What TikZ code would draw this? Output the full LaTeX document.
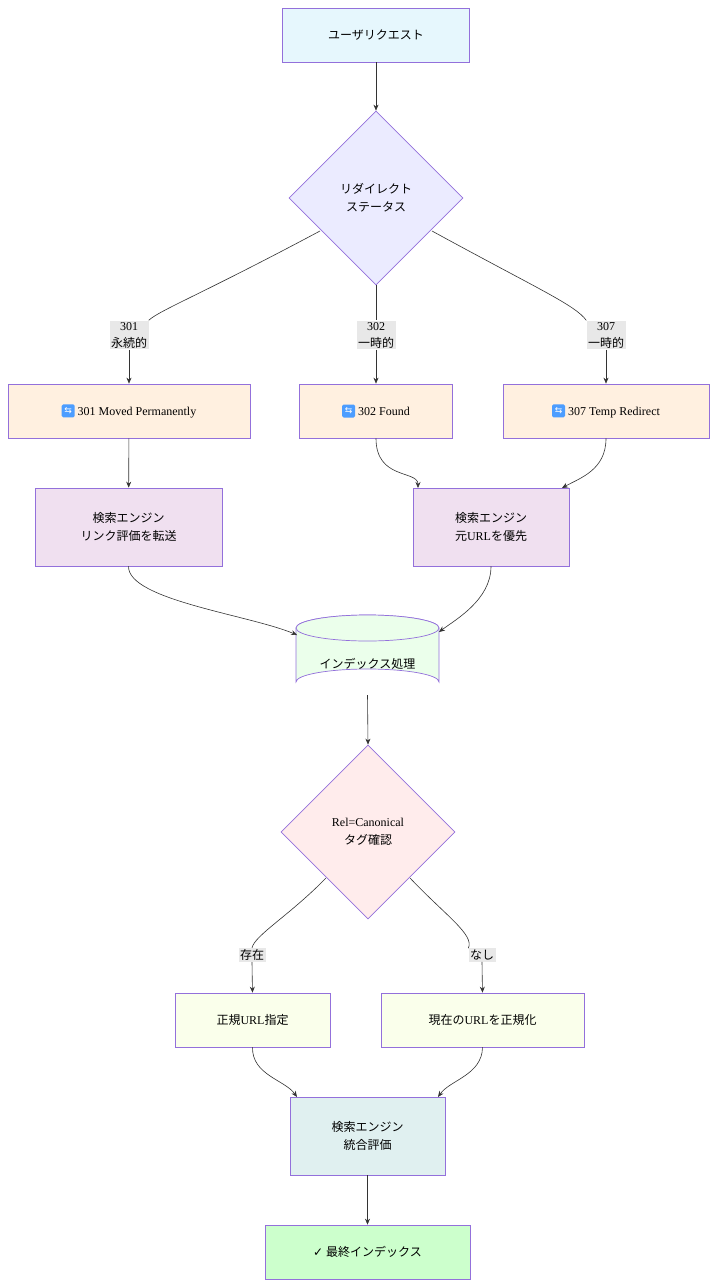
\documentclass[tikz,border=0pt]{standalone}
\usepackage{fontspec}
\setmainfont{Liberation Serif}
\newfontfamily\cjk{Noto Sans CJK JP}
\newfontfamily\dju{DejaVu Sans}
\usetikzlibrary{shapes.geometric,arrows.meta}
\definecolor{bd}{HTML}{9370DB}
\definecolor{ln}{HTML}{333333}
\newcommand{\rico}{\tikz[baseline=-0.35em]{\node[fill=blue!55!cyan!70,rounded corners=1.5pt,inner sep=0pt,minimum size=13pt,text=white,font=\dju\fontsize{9}{9}\selectfont]{⇆};}}
\begin{document}
\begin{tikzpicture}[x=1pt,y=-1pt,
  box/.style={draw=bd,line width=0.7pt,inner sep=0pt,align=center,font=\fontsize{12}{18}\selectfont},
  dia/.style={draw=bd,line width=0.7pt,diamond,aspect=1,minimum width=174pt,minimum height=174pt,inner sep=0pt,align=center,font=\fontsize{12}{18}\selectfont},
  lab/.style={fill=black!9,inner sep=1.5pt,align=center,font=\fontsize{12}{17}\selectfont},
  arr/.style={draw=ln,line width=0.6pt,-{Stealth[length=6pt,width=5pt]}},
  ln/.style={draw=ln,line width=0.6pt}]
\useasboundingbox (0,0) rectangle (717,1287);
\node[box,fill=cyan!10,minimum width=187pt,minimum height=54pt] (start) at (376,35) {\cjk ユーザリクエスト};
\node[dia,fill=blue!8] (d1) at (376,198) {\cjk リダイレクト\\\cjk ステータス};
\node[lab] (l1) at (129,335) {301\\\cjk 永続的};
\node[lab] (l2) at (376,335) {302\\\cjk 一時的};
\node[lab] (l3) at (606,335) {307\\\cjk 一時的};
\node[box,fill=orange!12,minimum width=242pt,minimum height=54pt] (b1) at (129,411) {\rico\ 301 Moved Permanently};
\node[box,fill=orange!12,minimum width=153pt,minimum height=54pt] (b2) at (376,411) {\rico\ 302 Found};
\node[box,fill=orange!12,minimum width=206pt,minimum height=54pt] (b3) at (606,411) {\rico\ 307 Temp Redirect};
\node[box,fill=violet!12,minimum width=187pt,minimum height=78pt] (s1) at (128.5,527) {\cjk 検索エンジン\\\cjk リンク評価を転送};
\node[box,fill=violet!12,minimum width=156pt,minimum height=78pt] (s2) at (491,527) {\cjk 検索エンジン\\{\cjk 元}URL{\cjk を優先}};
% cylinder
\path[draw=bd,line width=0.7pt,fill=green!8] (296,628) arc[start angle=180,end angle=360,x radius=71.5,y radius=13] -- (439,682) arc[start angle=0,end angle=-180,x radius=71.5,y radius=13] -- cycle;
\path[draw=bd,line width=0.7pt,fill=green!8] (367.5,628) ellipse[x radius=71.5,y radius=13];
\node[font=\fontsize{12}{18}\selectfont,minimum width=143pt,minimum height=80pt,inner sep=0pt] (cyl) at (367.5,655) {};
\node at (367.5,664) {\cjk\fontsize{12}{18}\selectfont インデックス処理};
\node[dia,fill=pink!30] (d2) at (368,832) {Rel=Canonical\\\cjk タグ確認};
\node[lab] (l4) at (252,955) {\cjk 存在};
\node[lab] (l5) at (482,955) {\cjk なし};
\node[box,fill=lime!8,minimum width=155pt,minimum height=54pt] (c1) at (252.5,1020) {{\cjk 正規}URL{\cjk 指定}};
\node[box,fill=lime!8,minimum width=203pt,minimum height=54pt] (c2) at (482.5,1020) {{\cjk 現在の}URL{\cjk を正規化}};
\node[box,fill=teal!12,minimum width=155pt,minimum height=78pt] (m) at (367.5,1136) {\cjk 検索エンジン\\\cjk 統合評価};
\node[box,fill=green!20,minimum width=205pt,minimum height=54pt] (f) at (367.5,1252) {{\dju ✓} {\cjk 最終インデックス}};
% edges
\draw[arr] (start) -- (d1);
\coordinate (p1) at (320,231); \coordinate (p3) at (432,231);
\draw[ln] (p1) .. controls (200,295) and (160,310) .. (l1.north east);
\draw[arr] (l1.south) .. controls (129,365) .. (b1.north);
\draw[ln] (d1.south) -- (l2.north);
\draw[arr] (l2.south) -- (b2.north);
\draw[ln] (p3) .. controls (540,290) and (575,305) .. (l3.north west);
\draw[arr] (l3.south) .. controls (606,365) .. (b3.north);
\draw[arr] (b1) -- (s1);
\draw[arr] (b2.south) .. controls (376,480) and (418,470) .. (418,488);
\draw[arr] (b3.south) .. controls (606,470) and (580,478) .. (562,488);
\draw[arr] (s1.south) .. controls (128,600) and (250,615) .. (297,635);
\draw[arr] (s2.south) .. controls (491,600) and (455,620) .. (439,632);
\draw[arr] (367.5,695) -- (d2.north);
\coordinate (q1) at (326,878); \coordinate (q2) at (410,878);
\draw[ln] (q1) .. controls (290,915) and (255,935) .. (l4.north);
\draw[arr] (l4.south) .. controls (252,975) .. (c1.north);
\draw[ln] (q2) .. controls (445,915) and (475,935) .. (l5.north west);
\draw[arr] (l5.south) .. controls (482,975) .. (c2.north);
\draw[arr] (c1.south) .. controls (252,1075) and (285,1080) .. (297,1097);
\draw[arr] (c2.south) .. controls (482,1075) and (450,1080) .. (438,1097);
\draw[arr] (m) -- (f);
\end{tikzpicture}
\end{document}
